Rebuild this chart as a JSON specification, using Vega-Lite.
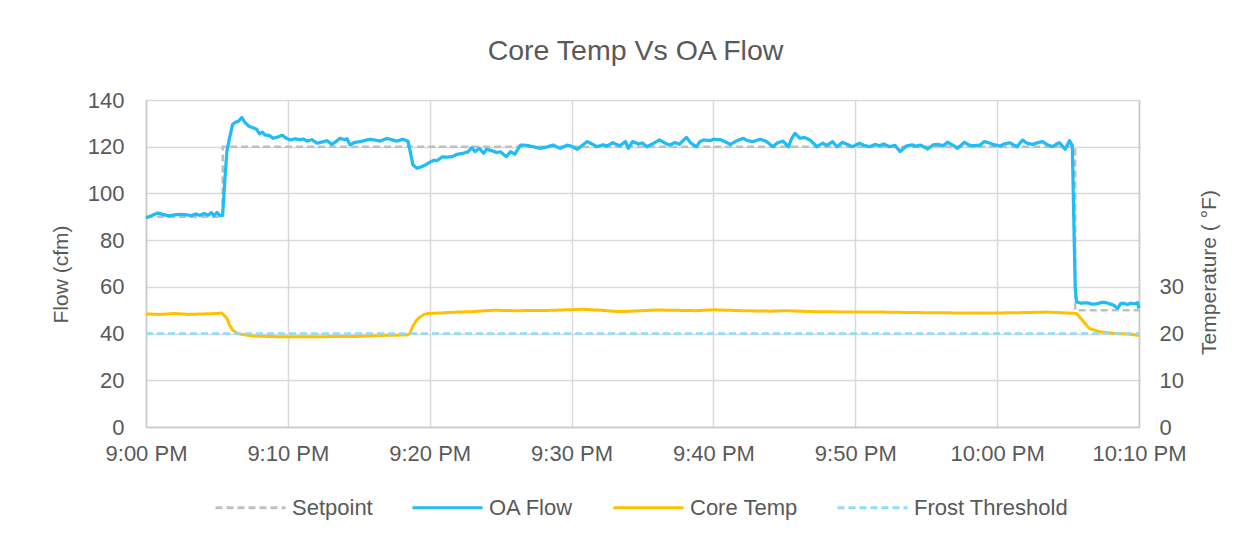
{
  "$schema": "https://vega.github.io/schema/vega-lite/v6.json",
  "width": 993,
  "height": 327,
  "autosize": {"type": "none"},
  "padding": {"left": 146, "top": 100, "right": 109, "bottom": 113},
  "background": "white",
  "config": {
    "font": "Liberation Sans",
    "view": {"stroke": null},
    "axis": {
      "labelFont": "Liberation Sans",
      "titleFont": "Liberation Sans",
      "labelColor": "#595959",
      "titleColor": "#595959",
      "labelFontSize": 22,
      "titleFontSize": 21,
      "titleFontWeight": "normal",
      "ticks": false,
      "gridColor": "#D9D9D9",
      "gridWidth": 1.5,
      "domainColor": "#C8C8C8",
      "domainWidth": 1.5
    }
  },
  "title": {
    "text": "Core Temp Vs OA Flow",
    "font": "Liberation Sans",
    "fontSize": 28.5,
    "fontWeight": "normal",
    "color": "#595959",
    "anchor": "middle",
    "dx": -7,
    "offset": 24
  },
  "data": {
    "values": [
      {"t": 0, "s": "Setpoint", "v": 90},
      {"t": 5.4, "s": "Setpoint", "v": 90},
      {"t": 5.41, "s": "Setpoint", "v": 120},
      {"t": 65.5, "s": "Setpoint", "v": 120},
      {"t": 65.51, "s": "Setpoint", "v": 50},
      {"t": 70, "s": "Setpoint", "v": 50},
      {"t": 0, "s": "Frost Threshold", "v": 20},
      {"t": 70, "s": "Frost Threshold", "v": 20},
      {"t": 0, "s": "OA Flow", "v": 89.5},
      {"t": 0.4, "s": "OA Flow", "v": 90.5},
      {"t": 0.8, "s": "OA Flow", "v": 91.6},
      {"t": 1.2, "s": "OA Flow", "v": 91},
      {"t": 1.6, "s": "OA Flow", "v": 90.4},
      {"t": 2.0, "s": "OA Flow", "v": 90.8},
      {"t": 2.4, "s": "OA Flow", "v": 91},
      {"t": 2.8, "s": "OA Flow", "v": 90.9},
      {"t": 3.2, "s": "OA Flow", "v": 90.5},
      {"t": 3.5, "s": "OA Flow", "v": 91.2},
      {"t": 3.8, "s": "OA Flow", "v": 90.6},
      {"t": 4.1, "s": "OA Flow", "v": 91.4},
      {"t": 4.4, "s": "OA Flow", "v": 90.7},
      {"t": 4.6, "s": "OA Flow", "v": 91.8},
      {"t": 4.8, "s": "OA Flow", "v": 90.5},
      {"t": 5.0, "s": "OA Flow", "v": 91.9},
      {"t": 5.2, "s": "OA Flow", "v": 90.6},
      {"t": 5.4, "s": "OA Flow", "v": 90.6},
      {"t": 5.55, "s": "OA Flow", "v": 105},
      {"t": 5.7, "s": "OA Flow", "v": 118},
      {"t": 5.9, "s": "OA Flow", "v": 124},
      {"t": 6.1, "s": "OA Flow", "v": 129.5},
      {"t": 6.3, "s": "OA Flow", "v": 130.5},
      {"t": 6.5, "s": "OA Flow", "v": 130.8},
      {"t": 6.75, "s": "OA Flow", "v": 132.5},
      {"t": 7.0, "s": "OA Flow", "v": 130.2},
      {"t": 7.25, "s": "OA Flow", "v": 128.8},
      {"t": 7.5, "s": "OA Flow", "v": 128.2},
      {"t": 7.8, "s": "OA Flow", "v": 127.5},
      {"t": 8.0, "s": "OA Flow", "v": 125.5},
      {"t": 8.2, "s": "OA Flow", "v": 126.2},
      {"t": 8.4, "s": "OA Flow", "v": 125},
      {"t": 8.7, "s": "OA Flow", "v": 124.8},
      {"t": 8.95, "s": "OA Flow", "v": 123.6},
      {"t": 9.3, "s": "OA Flow", "v": 124.2},
      {"t": 9.6, "s": "OA Flow", "v": 124.9},
      {"t": 9.9, "s": "OA Flow", "v": 123.6},
      {"t": 10.15, "s": "OA Flow", "v": 122.9},
      {"t": 10.5, "s": "OA Flow", "v": 123.4},
      {"t": 10.86, "s": "OA Flow", "v": 123},
      {"t": 11.1, "s": "OA Flow", "v": 123.3},
      {"t": 11.35, "s": "OA Flow", "v": 122.4},
      {"t": 11.7, "s": "OA Flow", "v": 123},
      {"t": 12.06, "s": "OA Flow", "v": 121.5},
      {"t": 12.4, "s": "OA Flow", "v": 122},
      {"t": 12.76, "s": "OA Flow", "v": 122.6},
      {"t": 13.1, "s": "OA Flow", "v": 121},
      {"t": 13.4, "s": "OA Flow", "v": 122.3},
      {"t": 13.68, "s": "OA Flow", "v": 123.6},
      {"t": 14.0, "s": "OA Flow", "v": 123},
      {"t": 14.17, "s": "OA Flow", "v": 123.4},
      {"t": 14.38, "s": "OA Flow", "v": 120.8},
      {"t": 14.7, "s": "OA Flow", "v": 121.8},
      {"t": 15.09, "s": "OA Flow", "v": 122.2},
      {"t": 15.4, "s": "OA Flow", "v": 122.6},
      {"t": 15.79, "s": "OA Flow", "v": 123.2},
      {"t": 16.1, "s": "OA Flow", "v": 122.9},
      {"t": 16.5, "s": "OA Flow", "v": 122.4},
      {"t": 16.75, "s": "OA Flow", "v": 123},
      {"t": 16.99, "s": "OA Flow", "v": 123.6},
      {"t": 17.3, "s": "OA Flow", "v": 123},
      {"t": 17.69, "s": "OA Flow", "v": 122.4},
      {"t": 17.9, "s": "OA Flow", "v": 122.8},
      {"t": 18.12, "s": "OA Flow", "v": 123.2},
      {"t": 18.47, "s": "OA Flow", "v": 122.3},
      {"t": 18.82, "s": "OA Flow", "v": 112.2},
      {"t": 19.1, "s": "OA Flow", "v": 110.8},
      {"t": 19.46, "s": "OA Flow", "v": 111.5},
      {"t": 19.7, "s": "OA Flow", "v": 112.2},
      {"t": 20.02, "s": "OA Flow", "v": 113.4},
      {"t": 20.3, "s": "OA Flow", "v": 114.2},
      {"t": 20.51, "s": "OA Flow", "v": 114},
      {"t": 20.9, "s": "OA Flow", "v": 115.7},
      {"t": 21.2, "s": "OA Flow", "v": 115.5},
      {"t": 21.6, "s": "OA Flow", "v": 115.8},
      {"t": 21.9, "s": "OA Flow", "v": 116.7},
      {"t": 22.35, "s": "OA Flow", "v": 117.2},
      {"t": 22.7, "s": "OA Flow", "v": 117.8},
      {"t": 22.96, "s": "OA Flow", "v": 119.6},
      {"t": 23.2, "s": "OA Flow", "v": 117.9},
      {"t": 23.5, "s": "OA Flow", "v": 119.3},
      {"t": 23.8, "s": "OA Flow", "v": 117.2},
      {"t": 24.0, "s": "OA Flow", "v": 118.9},
      {"t": 24.4, "s": "OA Flow", "v": 118.3},
      {"t": 24.7, "s": "OA Flow", "v": 117.5},
      {"t": 25.0, "s": "OA Flow", "v": 117.8},
      {"t": 25.4, "s": "OA Flow", "v": 115.7},
      {"t": 25.7, "s": "OA Flow", "v": 117.9},
      {"t": 26.0, "s": "OA Flow", "v": 116.8},
      {"t": 26.4, "s": "OA Flow", "v": 120.7},
      {"t": 26.8, "s": "OA Flow", "v": 120.6},
      {"t": 27.3, "s": "OA Flow", "v": 120},
      {"t": 27.8, "s": "OA Flow", "v": 119.3},
      {"t": 28.2, "s": "OA Flow", "v": 119.8},
      {"t": 28.7, "s": "OA Flow", "v": 120.7},
      {"t": 29.2, "s": "OA Flow", "v": 119.3},
      {"t": 29.7, "s": "OA Flow", "v": 120.7},
      {"t": 30.0, "s": "OA Flow", "v": 120.2},
      {"t": 30.4, "s": "OA Flow", "v": 118.9},
      {"t": 30.8, "s": "OA Flow", "v": 120.8},
      {"t": 31.1, "s": "OA Flow", "v": 122.2},
      {"t": 31.5, "s": "OA Flow", "v": 121},
      {"t": 31.8, "s": "OA Flow", "v": 120},
      {"t": 32.2, "s": "OA Flow", "v": 120.8},
      {"t": 32.5, "s": "OA Flow", "v": 120.3},
      {"t": 32.9, "s": "OA Flow", "v": 121.7},
      {"t": 33.4, "s": "OA Flow", "v": 120.4},
      {"t": 33.8, "s": "OA Flow", "v": 122.2},
      {"t": 34.0, "s": "OA Flow", "v": 119.3},
      {"t": 34.3, "s": "OA Flow", "v": 122.2},
      {"t": 34.7, "s": "OA Flow", "v": 121.2},
      {"t": 35.0, "s": "OA Flow", "v": 121.6},
      {"t": 35.3, "s": "OA Flow", "v": 120},
      {"t": 35.7, "s": "OA Flow", "v": 121.2},
      {"t": 36.2, "s": "OA Flow", "v": 122.9},
      {"t": 36.6, "s": "OA Flow", "v": 121.5},
      {"t": 36.9, "s": "OA Flow", "v": 120.7},
      {"t": 37.3, "s": "OA Flow", "v": 121.8},
      {"t": 37.6, "s": "OA Flow", "v": 121},
      {"t": 37.9, "s": "OA Flow", "v": 122.9},
      {"t": 38.1, "s": "OA Flow", "v": 124},
      {"t": 38.4, "s": "OA Flow", "v": 121.6},
      {"t": 38.8, "s": "OA Flow", "v": 120},
      {"t": 39.05, "s": "OA Flow", "v": 122.2},
      {"t": 39.3, "s": "OA Flow", "v": 122.9},
      {"t": 39.8, "s": "OA Flow", "v": 122.6},
      {"t": 40.0, "s": "OA Flow", "v": 123.2},
      {"t": 40.5, "s": "OA Flow", "v": 123},
      {"t": 40.8, "s": "OA Flow", "v": 122.2},
      {"t": 41.2, "s": "OA Flow", "v": 121},
      {"t": 41.6, "s": "OA Flow", "v": 122.4},
      {"t": 42.1, "s": "OA Flow", "v": 123.6},
      {"t": 42.4, "s": "OA Flow", "v": 122.6},
      {"t": 42.8, "s": "OA Flow", "v": 122.2},
      {"t": 43.3, "s": "OA Flow", "v": 123.2},
      {"t": 43.7, "s": "OA Flow", "v": 122.4},
      {"t": 44.2, "s": "OA Flow", "v": 120},
      {"t": 44.5, "s": "OA Flow", "v": 121.6},
      {"t": 44.9, "s": "OA Flow", "v": 122.4},
      {"t": 45.3, "s": "OA Flow", "v": 120},
      {"t": 45.5, "s": "OA Flow", "v": 123.4},
      {"t": 45.75, "s": "OA Flow", "v": 125.7},
      {"t": 46.1, "s": "OA Flow", "v": 123.6},
      {"t": 46.4, "s": "OA Flow", "v": 124},
      {"t": 46.8, "s": "OA Flow", "v": 122.9},
      {"t": 47.3, "s": "OA Flow", "v": 120},
      {"t": 47.7, "s": "OA Flow", "v": 121.5},
      {"t": 48.0, "s": "OA Flow", "v": 120.6},
      {"t": 48.4, "s": "OA Flow", "v": 122.2},
      {"t": 48.7, "s": "OA Flow", "v": 120},
      {"t": 49.1, "s": "OA Flow", "v": 121.9},
      {"t": 49.5, "s": "OA Flow", "v": 120.8},
      {"t": 49.8, "s": "OA Flow", "v": 120},
      {"t": 50.3, "s": "OA Flow", "v": 121.5},
      {"t": 50.6, "s": "OA Flow", "v": 120.6},
      {"t": 51.0, "s": "OA Flow", "v": 120},
      {"t": 51.4, "s": "OA Flow", "v": 121},
      {"t": 51.7, "s": "OA Flow", "v": 120.4},
      {"t": 52.0, "s": "OA Flow", "v": 121.2},
      {"t": 52.4, "s": "OA Flow", "v": 120},
      {"t": 52.8, "s": "OA Flow", "v": 120.6},
      {"t": 53.15, "s": "OA Flow", "v": 117.9},
      {"t": 53.6, "s": "OA Flow", "v": 120.3},
      {"t": 54.0, "s": "OA Flow", "v": 120.8},
      {"t": 54.3, "s": "OA Flow", "v": 120.2},
      {"t": 54.6, "s": "OA Flow", "v": 120.7},
      {"t": 55.1, "s": "OA Flow", "v": 119},
      {"t": 55.5, "s": "OA Flow", "v": 120.8},
      {"t": 55.8, "s": "OA Flow", "v": 121},
      {"t": 56.2, "s": "OA Flow", "v": 120.4},
      {"t": 56.5, "s": "OA Flow", "v": 121.9},
      {"t": 56.9, "s": "OA Flow", "v": 120.6},
      {"t": 57.2, "s": "OA Flow", "v": 119.3},
      {"t": 57.7, "s": "OA Flow", "v": 121.9},
      {"t": 58.0, "s": "OA Flow", "v": 120.8},
      {"t": 58.3, "s": "OA Flow", "v": 120.4},
      {"t": 58.8, "s": "OA Flow", "v": 120.7},
      {"t": 59.1, "s": "OA Flow", "v": 122.2},
      {"t": 59.5, "s": "OA Flow", "v": 121.5},
      {"t": 59.7, "s": "OA Flow", "v": 121},
      {"t": 60.2, "s": "OA Flow", "v": 120.3},
      {"t": 60.5, "s": "OA Flow", "v": 121.2},
      {"t": 60.9, "s": "OA Flow", "v": 121.7},
      {"t": 61.4, "s": "OA Flow", "v": 120},
      {"t": 61.8, "s": "OA Flow", "v": 122.9},
      {"t": 62.1, "s": "OA Flow", "v": 121.5},
      {"t": 62.5, "s": "OA Flow", "v": 121},
      {"t": 62.9, "s": "OA Flow", "v": 121.8},
      {"t": 63.2, "s": "OA Flow", "v": 122.2},
      {"t": 63.5, "s": "OA Flow", "v": 121},
      {"t": 63.9, "s": "OA Flow", "v": 120},
      {"t": 64.2, "s": "OA Flow", "v": 121.2},
      {"t": 64.4, "s": "OA Flow", "v": 121.7},
      {"t": 64.8, "s": "OA Flow", "v": 118.9},
      {"t": 65.1, "s": "OA Flow", "v": 122.6},
      {"t": 65.3, "s": "OA Flow", "v": 120.5},
      {"t": 65.5, "s": "OA Flow", "v": 60},
      {"t": 65.6, "s": "OA Flow", "v": 53.6},
      {"t": 65.9, "s": "OA Flow", "v": 53},
      {"t": 66.3, "s": "OA Flow", "v": 53.2},
      {"t": 66.7, "s": "OA Flow", "v": 52.6},
      {"t": 67.0, "s": "OA Flow", "v": 52.7},
      {"t": 67.4, "s": "OA Flow", "v": 53.4},
      {"t": 67.7, "s": "OA Flow", "v": 53.2},
      {"t": 68.0, "s": "OA Flow", "v": 52.6},
      {"t": 68.2, "s": "OA Flow", "v": 52.2},
      {"t": 68.5, "s": "OA Flow", "v": 50.8},
      {"t": 68.7, "s": "OA Flow", "v": 52.8},
      {"t": 68.9, "s": "OA Flow", "v": 53},
      {"t": 69.2, "s": "OA Flow", "v": 52.4},
      {"t": 69.4, "s": "OA Flow", "v": 53},
      {"t": 69.7, "s": "OA Flow", "v": 52.8},
      {"t": 69.9, "s": "OA Flow", "v": 53.2},
      {"t": 70, "s": "OA Flow", "v": 50.8},
      {"t": 0, "s": "Core Temp", "v": 24.2},
      {"t": 1, "s": "Core Temp", "v": 24.1},
      {"t": 2, "s": "Core Temp", "v": 24.3},
      {"t": 3, "s": "Core Temp", "v": 24.1},
      {"t": 4, "s": "Core Temp", "v": 24.2},
      {"t": 5, "s": "Core Temp", "v": 24.3},
      {"t": 5.35, "s": "Core Temp", "v": 24.4},
      {"t": 5.7, "s": "Core Temp", "v": 23.3},
      {"t": 5.9, "s": "Core Temp", "v": 21.8},
      {"t": 6.1, "s": "Core Temp", "v": 20.8},
      {"t": 6.4, "s": "Core Temp", "v": 20.1},
      {"t": 6.8, "s": "Core Temp", "v": 19.8},
      {"t": 7.5, "s": "Core Temp", "v": 19.5},
      {"t": 9, "s": "Core Temp", "v": 19.35},
      {"t": 11, "s": "Core Temp", "v": 19.3},
      {"t": 13, "s": "Core Temp", "v": 19.35},
      {"t": 15, "s": "Core Temp", "v": 19.4},
      {"t": 16.5, "s": "Core Temp", "v": 19.6},
      {"t": 18.4, "s": "Core Temp", "v": 19.7},
      {"t": 18.6, "s": "Core Temp", "v": 20},
      {"t": 18.8, "s": "Core Temp", "v": 21.5},
      {"t": 19.05, "s": "Core Temp", "v": 22.8},
      {"t": 19.3, "s": "Core Temp", "v": 23.5},
      {"t": 19.6, "s": "Core Temp", "v": 24.1},
      {"t": 19.9, "s": "Core Temp", "v": 24.3},
      {"t": 20.7, "s": "Core Temp", "v": 24.4},
      {"t": 21.9, "s": "Core Temp", "v": 24.6},
      {"t": 23, "s": "Core Temp", "v": 24.7},
      {"t": 24.5, "s": "Core Temp", "v": 25},
      {"t": 26, "s": "Core Temp", "v": 24.9},
      {"t": 28.3, "s": "Core Temp", "v": 24.95},
      {"t": 30.8, "s": "Core Temp", "v": 25.2},
      {"t": 32, "s": "Core Temp", "v": 25},
      {"t": 33.4, "s": "Core Temp", "v": 24.7},
      {"t": 35, "s": "Core Temp", "v": 24.9},
      {"t": 36, "s": "Core Temp", "v": 25.05},
      {"t": 38.8, "s": "Core Temp", "v": 24.9},
      {"t": 40, "s": "Core Temp", "v": 25.1},
      {"t": 42, "s": "Core Temp", "v": 24.9},
      {"t": 44, "s": "Core Temp", "v": 24.8},
      {"t": 45, "s": "Core Temp", "v": 24.9},
      {"t": 47, "s": "Core Temp", "v": 24.7},
      {"t": 50, "s": "Core Temp", "v": 24.6},
      {"t": 52, "s": "Core Temp", "v": 24.6},
      {"t": 54, "s": "Core Temp", "v": 24.5},
      {"t": 56, "s": "Core Temp", "v": 24.45},
      {"t": 58, "s": "Core Temp", "v": 24.4},
      {"t": 60, "s": "Core Temp", "v": 24.4},
      {"t": 62, "s": "Core Temp", "v": 24.5},
      {"t": 63.5, "s": "Core Temp", "v": 24.6},
      {"t": 65, "s": "Core Temp", "v": 24.4},
      {"t": 65.6, "s": "Core Temp", "v": 24.3},
      {"t": 66.1, "s": "Core Temp", "v": 22.5},
      {"t": 66.5, "s": "Core Temp", "v": 21.1},
      {"t": 67.2, "s": "Core Temp", "v": 20.4},
      {"t": 68.2, "s": "Core Temp", "v": 20.05},
      {"t": 69.2, "s": "Core Temp", "v": 19.9},
      {"t": 70, "s": "Core Temp", "v": 19.6}
    ]
  },
  "encoding": {
    "x": {
      "field": "t",
      "type": "quantitative",
      "scale": {"domain": [0, 70], "nice": false, "zero": false},
      "axis": {
        "title": null,
        "values": [0, 10, 20, 30, 40, 50, 60, 70],
        "labelExpr": "(datum.value < 60 ? '9:' + (datum.value == 0 ? '00' : datum.value) : '10:' + (datum.value == 60 ? '00' : datum.value - 60)) + ' PM'",
        "grid": true,
        "labelPadding": 16,
        "labelFlush": false,
        "labelOverlap": false,
        "labelBound": false
      }
    },
    "color": {
      "field": "s",
      "type": "nominal",
      "scale": {
        "domain": ["Setpoint", "OA Flow", "Core Temp", "Frost Threshold"],
        "range": ["#BFBFBF", "#1FBCF5", "#FFC000", "#8EDCF6"]
      },
      "legend": {
        "title": null,
        "orient": "none",
        "legendX": 68,
        "legendY": 371,
        "direction": "horizontal",
        "columns": 4,
        "symbolType": "stroke",
        "symbolSize": 4900,
        "symbolStrokeWidth": 3,
        "labelFont": "Liberation Sans",
        "labelFontSize": 22,
        "labelColor": "#595959",
        "labelOffset": 5,
        "columnPadding": 33,
        "labelLimit": 300
      }
    },
    "strokeDash": {
      "field": "s",
      "type": "nominal",
      "scale": {
        "domain": ["Setpoint", "OA Flow", "Core Temp", "Frost Threshold"],
        "range": [[7, 4], [1, 0], [1, 0], [7, 4]]
      },
      "legend": {
        "title": null,
        "orient": "none",
        "legendX": 68,
        "legendY": 371,
        "direction": "horizontal",
        "columns": 4,
        "symbolType": "stroke",
        "symbolSize": 4900,
        "symbolStrokeWidth": 3,
        "labelFont": "Liberation Sans",
        "labelFontSize": 22,
        "labelColor": "#595959",
        "labelOffset": 5,
        "columnPadding": 33,
        "labelLimit": 300
      }
    }
  },
  "layer": [
    {
      "encoding": {
        "y": {
          "field": "v",
          "type": "quantitative",
          "scale": {"domain": [0, 140], "nice": false},
          "axis": {
            "orient": "left",
            "title": "Flow (cfm)",
            "values": [0, 20, 40, 60, 80, 100, 120, 140],
            "grid": true,
            "labelPadding": 22,
            "titlePadding": 16,
            "titleY": 174
          }
        }
      },
      "layer": [
        {
          "transform": [{"filter": "datum.s == 'Setpoint'"}],
          "mark": {"type": "line", "strokeWidth": 2.5}
        },
        {
          "transform": [{"filter": "datum.s == 'OA Flow'"}],
          "mark": {"type": "line", "strokeWidth": 3.25, "strokeJoin": "round"}
        }
      ]
    },
    {
      "encoding": {
        "y": {
          "field": "v",
          "type": "quantitative",
          "scale": {"domain": [0, 70], "nice": false},
          "axis": {
            "orient": "right",
            "title": "Temperature ( °F)",
            "values": [0, 10, 20, 30],
            "grid": false,
            "labelPadding": 20,
            "titlePadding": 15,
            "titleAngle": 270,
            "titleBaseline": "top",
            "titleY": 172
          }
        }
      },
      "layer": [
        {
          "transform": [{"filter": "datum.s == 'Core Temp'"}],
          "mark": {"type": "line", "strokeWidth": 3, "strokeJoin": "round"}
        },
        {
          "transform": [{"filter": "datum.s == 'Frost Threshold'"}],
          "mark": {"type": "line", "strokeWidth": 2.5}
        }
      ]
    }
  ],
  "resolve": {"scale": {"y": "independent"}}
}
